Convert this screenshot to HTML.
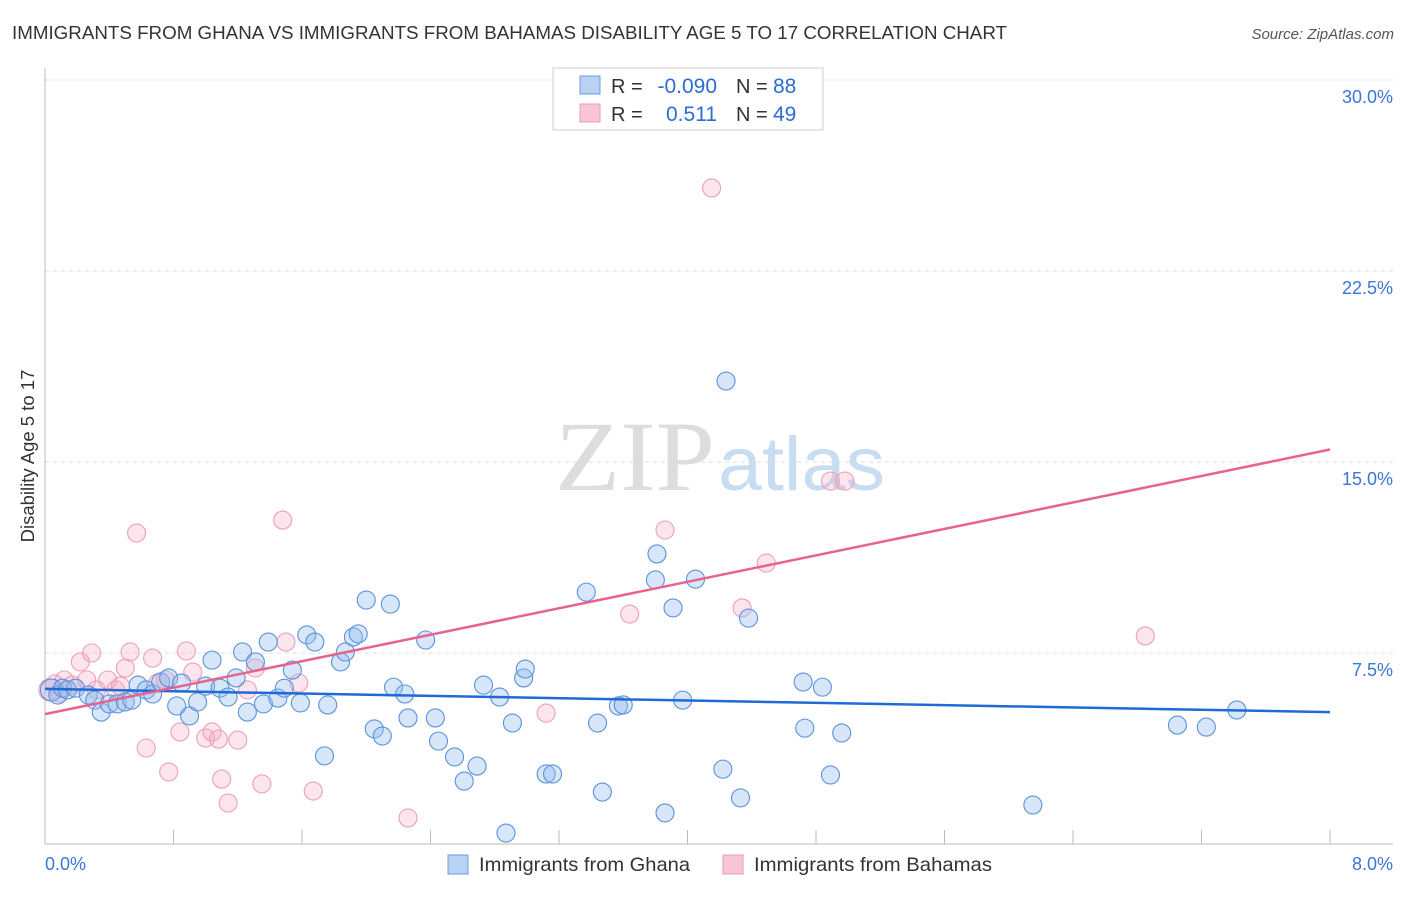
<!DOCTYPE html>
<html><head><meta charset="utf-8"><style>
body{margin:0;background:#fff;font-family:"Liberation Sans",sans-serif}
</style></head><body>
<svg id="c" width="1406" height="892" xmlns="http://www.w3.org/2000/svg">
<text x="12" y="39" font-size="18" fill="#333" textLength="995" lengthAdjust="spacingAndGlyphs">IMMIGRANTS FROM GHANA VS IMMIGRANTS FROM BAHAMAS DISABILITY AGE 5 TO 17 CORRELATION CHART</text>
<text x="1394" y="39" font-size="15" fill="#555" font-style="italic" text-anchor="end">Source: ZipAtlas.com</text>
<text x="555" y="490" font-size="100" fill="#ddd" font-family="Liberation Serif" textLength="160" lengthAdjust="spacingAndGlyphs">ZIP</text>
<text x="718" y="490" font-size="76" fill="#c8dcf2" textLength="167" lengthAdjust="spacingAndGlyphs">atlas</text>
<g id="grid"></g><g id="pts"></g><g id="lines"></g>
<text transform="translate(34,456) rotate(-90)" font-size="18.5" fill="#333" text-anchor="middle">Disability Age 5 to 17</text>
<g>
<rect x="553" y="68" width="270" height="62" fill="#fff" stroke="#ccc"/>
<rect x="580" y="76" width="20" height="18" fill="#b8d2f4" stroke="#6a9be0"/>
<rect x="580" y="104" width="20" height="18" fill="#f8c6d4" stroke="#ec9ab4"/>
<text x="611" y="93" font-size="20" fill="#333">R =</text>
<text x="717" y="93" font-size="21" fill="#2b6cd4" text-anchor="end">-0.090</text>
<text x="736" y="93" font-size="20" fill="#333">N =</text>
<text x="773" y="93" font-size="21" fill="#2b6cd4">88</text>
<text x="611" y="121" font-size="20" fill="#333">R =</text>
<text x="717" y="121" font-size="21" fill="#2b6cd4" text-anchor="end">0.511</text>
<text x="736" y="121" font-size="20" fill="#333">N =</text>
<text x="773" y="121" font-size="21" fill="#2b6cd4">49</text>
</g>
<g>
<rect x="448" y="855" width="20" height="19" fill="#b8d2f4" stroke="#6a9be0"/>
<text x="479" y="871" font-size="19.5" fill="#333" textLength="211" lengthAdjust="spacingAndGlyphs">Immigrants from Ghana</text>
<rect x="723" y="855" width="20" height="19" fill="#f8c6d4" stroke="#ec9ab4"/>
<text x="754" y="871" font-size="19.5" fill="#333" textLength="238" lengthAdjust="spacingAndGlyphs">Immigrants from Bahamas</text>
</g>
</svg>
<script>
const xTickLabels=["0.0%","8.0%"];
const yTicks=[7.5,15,22.5,30];
const yTickLabels=["7.5%","15.0%","22.5%","30.0%"];
const ghanaX=[.04,.08,.11,.14,.19,.27,.31,.35,.40,.45,.50,.54,.58,.63,.67,.72,.77,.82,.85,.90,.95,1.00,1.04,1.09,1.14,1.19,1.23,1.26,1.31,1.36,1.39,1.45,1.49,1.54,1.59,1.63,1.68,1.76,1.74,1.84,1.87,1.92,1.95,2.00,2.05,2.10,2.15,2.17,2.24,2.26,2.37,2.43,2.45,2.55,2.61,2.69,2.73,2.83,2.87,2.91,2.98,2.99,3.12,3.16,3.37,3.44,3.47,3.57,3.60,3.80,3.81,3.86,3.91,3.97,4.05,4.22,4.24,4.33,4.38,4.72,4.73,4.84,4.89,4.96,6.15,7.05,7.23,7.42];
const ghanaY=[6.05,5.85,6.12,6.05,6.12,5.85,5.65,5.18,5.50,5.50,5.58,5.65,6.24,6.05,5.89,6.36,6.52,5.42,6.32,5.03,5.58,6.20,7.22,6.12,5.77,6.52,7.54,5.18,7.15,5.50,7.93,5.73,6.12,6.83,5.54,8.21,7.93,5.46,3.46,7.15,7.54,8.13,8.25,9.58,4.52,4.24,9.42,6.16,5.89,4.95,8.01,4.95,4.04,3.42,2.47,3.06,6.24,5.77,0.43,4.75,6.52,6.87,2.75,2.75,9.89,4.75,2.04,5.42,5.46,10.37,11.39,1.22,9.27,5.65,10.40,2.94,18.18,1.81,8.87,6.36,4.55,6.16,2.71,4.36,1.53,4.67,4.59,5.26];
const bahamasX=[.03,.06,.09,.12,.17,.22,.26,.29,.32,.39,.44,.47,.50,.53,.57,.63,.67,.70,.75,.77,.84,.88,.92,1.00,1.04,1.08,1.10,1.14,1.20,1.26,1.31,1.35,1.48,1.50,1.58,1.67,2.26,3.12,3.64,3.86,4.15,4.34,4.49,4.89,4.98,6.85];
const bahamasY=[6.05,6.28,5.93,6.44,6.24,7.15,6.44,7.50,6.05,6.44,6.05,6.20,6.91,7.54,12.21,3.77,7.30,6.32,6.44,2.83,4.40,7.58,6.75,4.16,4.40,4.12,2.55,1.61,4.08,6.05,6.91,2.36,12.72,7.93,6.32,2.08,1.02,5.14,9.03,12.33,25.76,9.27,11.03,14.25,14.25,8.17];
const ghanaTrend=[6.09,5.18];
const bahamasTrend=[5.10,15.49];
const X0=45,X1=1330,Y0=844,PXY=191/7.5;
const sx=v=>X0+v/8*(X1-X0), sy=v=>Y0-v*PXY;
const NS="http://www.w3.org/2000/svg";
function mk(p,t,a){const e=document.createElementNS(NS,t);for(const k in a)e.setAttribute(k,a[k]);p.appendChild(e);return e;}
const svg=document.getElementById('c'),grid=document.getElementById('grid'),pts=document.getElementById('pts'),lines=document.getElementById('lines');
yTicks.forEach((t,i)=>{
 const l=mk(grid,'line',{x1:X0,x2:1393,y1:sy(t),y2:sy(t),stroke:'#ddd','stroke-dasharray':'4,4'});
 
 
 const tx=mk(grid,'text',{x:1393,y:sy(t)+23,'font-size':18,fill:'#3a76d6','text-anchor':'end'});
 tx.textContent=yTickLabels[i];
 
 
});
const ax=mk(grid,'line',{x1:X0,x2:X0,y1:68,y2:Y0,stroke:'#bbb'});


const bx=mk(grid,'line',{x1:X0,x2:1393,y1:Y0,y2:Y0,stroke:'#bbb'});


for(let i=0;i<=10;i++){
 const t=mk(grid,'line',{x1:sx(i*0.8),x2:sx(i*0.8),y1:Y0-14,y2:Y0,stroke:'#bbb'});
 
 
}
[[X0,'start',0],[1393,'end',1]].forEach(([x,a,i])=>{
 const t=mk(grid,'text',{x:x,y:870,'font-size':18,fill:'#3a76d6','text-anchor':a});
 t.textContent=xTickLabels[i];
 
 
});
function series(X,Y,fill,stroke,name){
 X.forEach((x,i)=>{
  const c=mk(pts,'circle',{cx:sx(x),cy:sy(Y[i]),r:i===0?11:9,fill:fill,stroke:stroke,'stroke-width':1.1});
  
  
 });
}
series(bahamasX,bahamasY,'rgba(245,170,195,0.3)','#ee9fb8','bahamas-point');
series(ghanaX,ghanaY,'rgba(150,190,240,0.38)','#5a92dc','ghana-point');
const l1=mk(lines,'line',{x1:sx(0),y1:sy(ghanaTrend[0]),x2:sx(8),y2:sy(ghanaTrend[1]),stroke:'#1f6ad6','stroke-width':2.5});


const l2=mk(lines,'line',{x1:sx(0),y1:sy(bahamasTrend[0]),x2:sx(8),y2:sy(bahamasTrend[1]),stroke:'#e8628e','stroke-width':2.5});


</script>
</body></html>
